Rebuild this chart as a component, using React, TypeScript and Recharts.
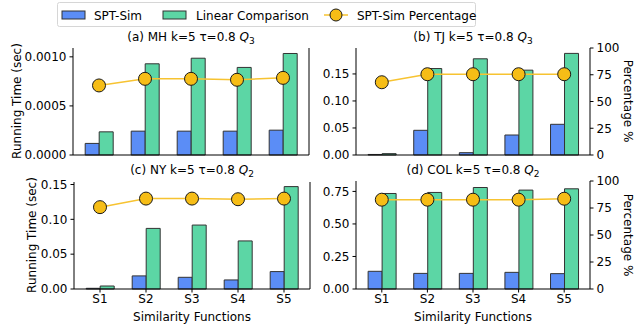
import React from 'react';
import { ComposedChart, Bar, Line, XAxis, YAxis } from 'recharts';

const categories = ['S1', 'S2', 'S3', 'S4', 'S5'];

// (a) MH
const mhSpt = [0.000118, 0.000243, 0.000243, 0.000243, 0.000253];
const mhLinear = [0.000236, 0.000929, 0.000986, 0.000892, 0.001034];
const mhPct = [65, 71.2, 71.2, 70.3, 72.1];
// (b) TJ
const tjSpt = [0.001, 0.0457, 0.0043, 0.037, 0.0568];
const tjLinear = [0.0025, 0.16, 0.178, 0.157, 0.188];
const tjPct = [68, 75.5, 75.5, 75.5, 75.5];
// (c) NY
const nySpt = [0.001, 0.0188, 0.0168, 0.013, 0.025];
const nyLinear = [0.0043, 0.087, 0.0918, 0.069, 0.147];
const nyPct = [76.5, 84.5, 84.5, 83.9, 84.5];
// (d) COL
const colSpt = [0.136, 0.12, 0.12, 0.128, 0.118];
const colLinear = [0.734, 0.742, 0.78, 0.76, 0.77];
const colPct = [82.7, 82.7, 82.7, 82.7, 83.6];

const mhTicks = [0, 0.0005, 0.001];
const tjTicks = [0, 0.05, 0.1, 0.15];
const nyTicks = [0, 0.05, 0.1, 0.15];
const colTicks = [0, 0.25, 0.5, 0.75];
const pctTicks = [0, 25, 50, 75, 100];

const BLUE = '#5B8DF6';
const GREEN = '#5CD6A5';
const ORANGE = '#F6BD16';
const LINE = '#F7C331';
const FONT = '"DejaVu Sans", sans-serif';

const build = (spt: number[], lin: number[], pct: number[]) =>
    categories.map((name, i) => ({ name, spt: spt[i], lin: lin[i], pct: pct[i] }));

type PanelProps = {
    x0: number; x1: number; y0: number; y1: number;
    data: any[];
    ticks: number[];
    max: number;
    digits: number;
    showX: boolean;
    showRight: boolean;
};

const tickStyle = { fill: '#000', fontSize: 12, fontFamily: FONT };

const Panel: React.FC<PanelProps> = ({ x0, x1, y0, y1, data, ticks, max, digits, showX, showRight }) => {
    const wl = 60, wr = 30, xh = 25;
    const padTop = 10;
    const L = x0 - 65, T = y0 - padTop;
    const W = x1 - x0 + 100, H = y1 - y0 + padTop + 30;
    return (
        <div style={{ position: 'absolute', left: L, top: T }}>
            <ComposedChart
                width={W}
                height={H}
                data={data}
                barGap={0}
                barCategoryGap="20%"
                margin={{ top: padTop, left: 65 - wl, right: 35 - wr, bottom: 30 - xh }}
            >
                <XAxis
                    xAxisId="main"
                    dataKey="name"
                    height={xh}
                    padding={{ left: 3, right: 3 }}
                    stroke="#000"
                    tickSize={3.5}
                    tickMargin={2}
                    tick={showX ? tickStyle : false}
                    interval={0}
                />
                <XAxis
                    xAxisId="top"
                    dataKey="name"
                    orientation="top"
                    height={0}
                    stroke="#000"
                    tick={false}
                    tickLine={false}
                />
                <YAxis
                    yAxisId="left"
                    width={wl}
                    domain={[0, max]}
                    ticks={ticks}
                    interval={0}
                    stroke="#000"
                    tickSize={3.5}
                    tickMargin={3}
                    tick={tickStyle}
                    tickFormatter={(v: number) => v.toFixed(digits)}
                />
                <YAxis
                    yAxisId="right"
                    orientation="right"
                    width={wr}
                    domain={[0, 100]}
                    ticks={pctTicks}
                    interval={0}
                    stroke="#000"
                    tickSize={3.5}
                    tickMargin={3}
                    tick={showRight ? tickStyle : false}
                />
                <Bar xAxisId="main" yAxisId="left" dataKey="spt" fill={BLUE} stroke="#333" strokeWidth={1} isAnimationActive={false} />
                <Bar xAxisId="main" yAxisId="left" dataKey="lin" fill={GREEN} stroke="#333" strokeWidth={1} isAnimationActive={false} />
                <Line
                    xAxisId="main"
                    yAxisId="right"
                    type="linear"
                    dataKey="pct"
                    stroke={LINE}
                    strokeWidth={1.5}
                    dot={{ r: 6.5, fill: ORANGE, stroke: '#1a1a1a', strokeWidth: 1 }}
                    isAnimationActive={false}
                />
            </ComposedChart>
        </div>
    );
};

const Txt: React.FC<{ x: number; y: number; rot?: number; children: React.ReactNode }> = ({ x, y, rot = 0, children }) => (
    <div
        style={{
            position: 'absolute', left: x, top: y, whiteSpace: 'nowrap',
            transform: `translate(-50%, -50%) rotate(${rot}deg)`,
            fontFamily: FONT, fontSize: 12, color: '#000', lineHeight: '14px',
        }}
    >
        {children}
    </div>
);

const Title: React.FC<{ x: number; y: number; head: string; sub: string }> = ({ x, y, head, sub }) => (
    <Txt x={x} y={y}>
        {head} <i>Q</i>
        <sub style={{ fontSize: 9, verticalAlign: '-3px' }}>{sub}</sub>
    </Txt>
);

const LegendBox: React.FC = () => (
    <svg width={420} height={26} style={{ position: 'absolute', left: 57, top: 2 }}>
        <rect x={0.5} y={0.5} width={418} height={24} rx={2} fill="#fff" stroke="#d6d6d6" />
        <rect x={5} y={9} width={23} height={8} fill={BLUE} stroke="#333" strokeWidth={1} />
        <text x={37} y={17.5} fontFamily={FONT} fontSize={12}>SPT-Sim</text>
        <rect x={106} y={9} width={23} height={8} fill={GREEN} stroke="#333" strokeWidth={1} />
        <text x={139} y={17.5} fontFamily={FONT} fontSize={12}>Linear Comparison</text>
        <line x1={267} y1={13} x2={291} y2={13} stroke={LINE} strokeWidth={1.5} />
        <circle cx={279} cy={13} r={6} fill={ORANGE} stroke="#1a1a1a" strokeWidth={1} />
        <text x={300} y={17.5} fontFamily={FONT} fontSize={12}>SPT-Sim Percentage</text>
    </svg>
);

export default function App() {
    return (
        <div style={{ position: 'absolute', left: 0, top: 0, width: 635, height: 329, background: '#fff', overflow: 'hidden' }}>
            <Panel x0={73} x1={309} y0={48} y1={155} data={build(mhSpt, mhLinear, mhPct)} ticks={mhTicks} max={0.00109} digits={4} showX={false} showRight={false} />
            <Panel x0={356} x1={590} y0={48} y1={155} data={build(tjSpt, tjLinear, tjPct)} ticks={tjTicks} max={0.198} digits={2} showX={false} showRight={true} />
            <Panel x0={74} x1={310} y0={182} y1={289} data={build(nySpt, nyLinear, nyPct)} ticks={nyTicks} max={0.1536} digits={2} showX={true} showRight={false} />
            <Panel x0={356} x1={590} y0={181} y1={289} data={build(colSpt, colLinear, colPct)} ticks={colTicks} max={0.83} digits={2} showX={true} showRight={true} />

            <Title x={191} y={39} head="(a) MH k=5 τ=0.8" sub="3" />
            <Title x={473} y={39} head="(b) TJ k=5 τ=0.8" sub="3" />
            <Title x={192} y={172} head="(c) NY k=5 τ=0.8" sub="2" />
            <Title x={473} y={172} head="(d) COL k=5 τ=0.8" sub="2" />

            <Txt x={17} y={101} rot={-90}>Running Time (sec)</Txt>
            <Txt x={32} y={235} rot={-90}>Running Time (sec)</Txt>
            <Txt x={628} y={101} rot={90}>Percentage %</Txt>
            <Txt x={628} y={235} rot={90}>Percentage %</Txt>

            <Txt x={192} y={317}>Similarity Functions</Txt>
            <Txt x={473} y={317}>Similarity Functions</Txt>

            <LegendBox />
        </div>
    );
}
